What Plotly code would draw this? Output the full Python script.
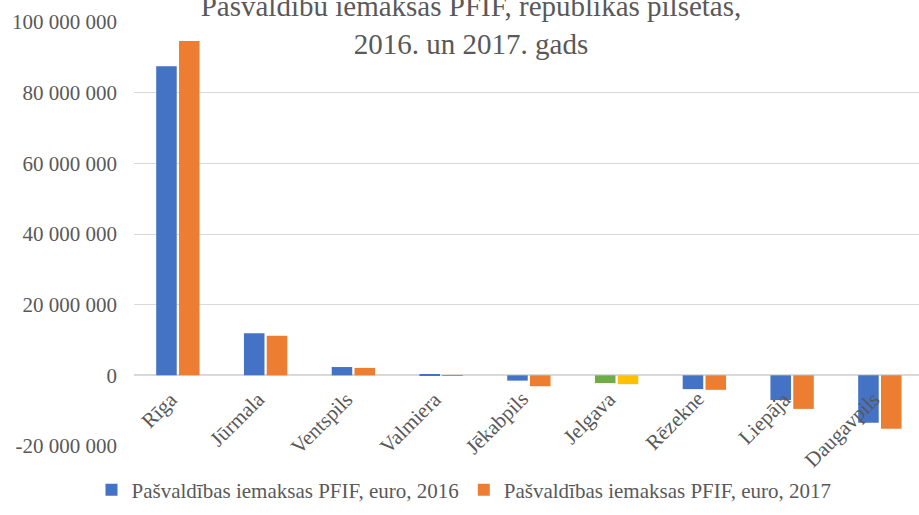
import plotly.graph_objects as go

cities = ["Rīga", "Jūrmala", "Ventspils", "Valmiera", "Jēkabpils", "Jelgava", "Rēzekne", "Liepāja", "Daugavpils"]
v2016 = [87500000, 11900000, 2350000, 100000, -1500000, -2200000, -3900000, -7000000, -13400000]
v2017 = [94600000, 11200000, 2100000, 80000, -3100000, -2500000, -4100000, -9500000, -15100000]
colors2016 = ["#4472C4"] * 5 + ["#70AD47"] + ["#4472C4"] * 3
colors2017 = ["#ED7D31"] * 5 + ["#FFC000"] + ["#ED7D31"] * 3
name2016 = "Pašvaldības iemaksas PFIF, euro, 2016"
name2017 = "Pašvaldības iemaksas PFIF, euro, 2017"
title_text = "Pašvaldību iemaksas PFIF, republikas pilsētas,<br>2016. un 2017. gads"
ytick_vals = [-20000000, 0, 20000000, 40000000, 60000000, 80000000, 100000000]
ytick_text = ["-20 000 000", "0", "20 000 000", "40 000 000", "60 000 000", "80 000 000", "100 000 000"]

FONT = "Liberation Serif"
GRAY = "#595959"

fig = go.Figure()
fig.add_trace(go.Bar(x=cities, y=v2016, name=name2016, marker=dict(color=colors2016, line=dict(width=0))))
fig.add_trace(go.Bar(x=cities, y=v2017, name=name2017, marker=dict(color=colors2017, line=dict(width=0))))

for c in cities:
    fig.add_annotation(x=c, y=0, xref="x", yref="y", text=c, showarrow=False,
                       textangle=-45, xanchor="right", yanchor="top",
                       xshift=7, yshift=-9,
                       font=dict(family=FONT, size=21, color=GRAY))

fig.update_layout(
    width=919, height=515,
    margin=dict(l=134, r=0, t=22, b=69, autoexpand=False),
    paper_bgcolor="white", plot_bgcolor="white",
    barmode="group", bargap=0.48, bargroupgap=0.1,
    font=dict(family=FONT, color=GRAY),
    title=dict(text=title_text, x=471 / 919, xanchor="center",
               yref="container", y=1 - 16 / 515, yanchor="bottom",
               font=dict(family=FONT, size=29, color=GRAY)),
    legend=dict(orientation="h", xref="container", x=464 / 919, xanchor="center",
                yref="container", y=1 - 490 / 515, yanchor="middle",
                itemwidth=30,
                font=dict(family=FONT, size=21, color=GRAY)),
    showlegend=True,
)
fig.update_xaxes(showticklabels=False, showgrid=False, showline=False, zeroline=False,
                 range=[-0.5, 8.446], fixedrange=True)
fig.update_yaxes(range=[-20000000, 100000000], tickvals=ytick_vals, ticktext=ytick_text,
                 showgrid=True, gridcolor="#D9D9D9", gridwidth=1,
                 zeroline=True, zerolinecolor="#D9D9D9", zerolinewidth=2,
                 showline=False, ticks="", ticklabelstandoff=16,
                 tickfont=dict(family=FONT, size=21, color=GRAY))

fig.write_html("out.html", config={"displayModeBar": False},
               post_script="document.body.style.margin='0';")
